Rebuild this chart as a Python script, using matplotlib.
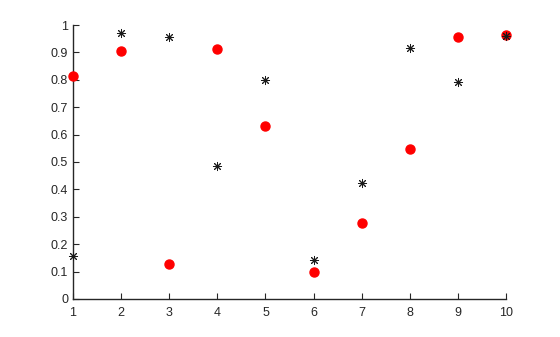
import numpy as np
import matplotlib.pyplot as plt

plt.rcParams['font.family'] = ['Liberation Sans', 'DejaVu Sans']

x = [1, 2, 3, 4, 5, 6, 7, 8, 9, 10]
red_y = [0.8147, 0.9058, 0.1270, 0.9134, 0.6324, 0.0975, 0.2785, 0.5469, 0.9575, 0.9649]
star_y = [0.1576, 0.9706, 0.9572, 0.4854, 0.8003, 0.1419, 0.4218, 0.9157, 0.7922, 0.9595]

fig = plt.figure(figsize=(5.6, 3.37), dpi=100)
ax = fig.add_axes([0.1304, 0.1128, 0.9036 - 0.1304, 0.9258 - 0.1128])

ax.plot(x, red_y, 'o', color='red', markersize=6.5, clip_on=False, zorder=3)
ax.plot(x, star_y, linestyle='none', marker=(8, 2, 0), color='#1a1a1a',
        markersize=6.5, markeredgewidth=0.7, clip_on=False, zorder=4)

ax.set_xlim(1, 10)
ax.set_ylim(0, 1)
ax.set_xticks(range(1, 11))
ax.set_yticks(np.arange(0, 1.01, 0.1))
ax.set_yticklabels(['0', '0.1', '0.2', '0.3', '0.4', '0.5', '0.6', '0.7', '0.8', '0.9', '1'])

ax.spines['top'].set_visible(False)
ax.spines['right'].set_visible(False)
for s in ['left', 'bottom']:
    ax.spines[s].set_color('#262626')
    ax.spines[s].set_linewidth(1)
ax.tick_params(direction='in', length=4, width=0.8, colors='#262626',
               labelsize=9, labelcolor='#262626')
ax.tick_params(axis='x', pad=6)

fig.savefig('out.png', dpi=100)
